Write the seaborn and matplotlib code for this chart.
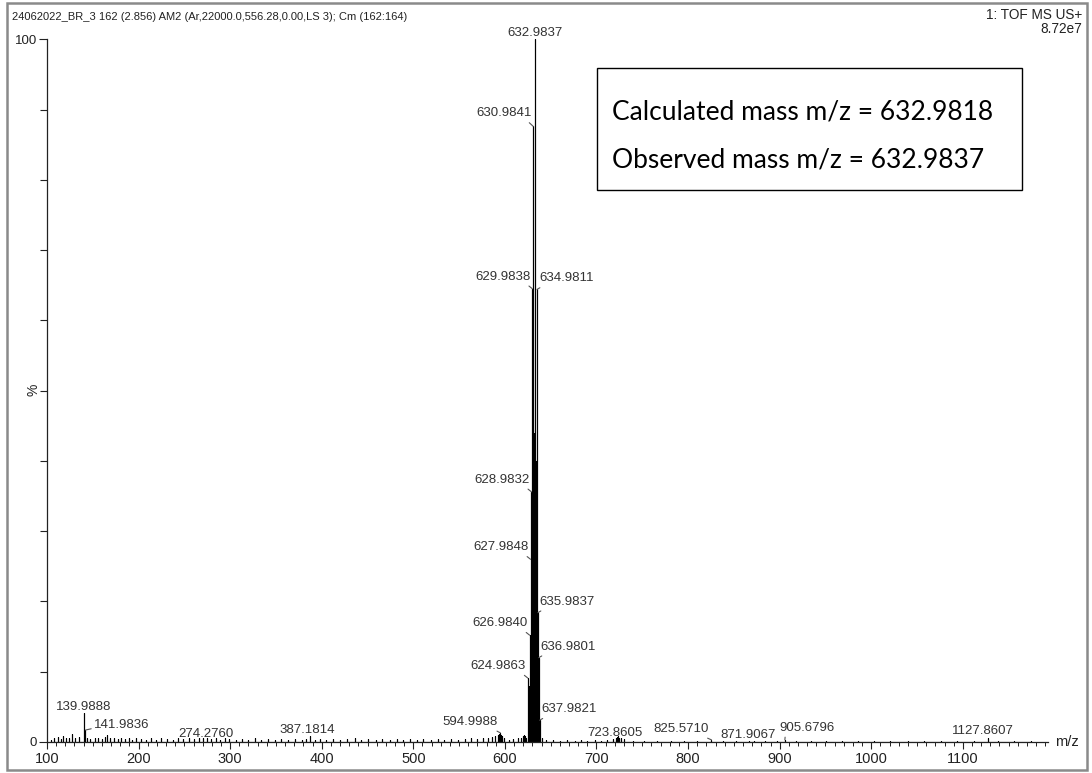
import numpy as np
import pandas as pd
import matplotlib
matplotlib.use("Agg")
import matplotlib.pyplot as plt
import seaborn as sns
from matplotlib.patches import Rectangle
from matplotlib.ticker import MultipleLocator, FixedLocator

# ---------------- data ----------------
label_mz = [632.9837, 630.9841, 629.9838, 634.9811, 628.9832, 627.9848,
            635.9837, 626.9840, 636.9801, 624.9863, 637.9821, 594.9988,
            139.9888, 141.9836, 274.2760, 387.1814, 723.8605, 825.5710,
            871.9067, 905.6796, 1127.8607]
label_int = [100.0, 87.6, 64.5, 64.4, 35.6, 26.0,
             18.4, 15.2, 12.0, 9.1, 3.1, 1.3,
             4.1, 1.7, 0.6, 0.8, 0.9, 0.3,
             0.2, 0.3, 0.5]

extra_mz = [625.98, 631.98, 633.98]
extra_int = [8.0, 44.0, 40.0]

noise_mz = [104, 108, 112, 115, 118, 121, 124, 127, 131, 135,
            144, 147, 152, 156, 160, 163, 166, 169, 173, 177, 181, 185, 189, 193, 197,
            203, 208, 214, 219, 225, 231, 238, 243, 249, 255, 261, 266, 270, 279, 284, 289, 294, 299,
            306, 313, 320, 327, 334, 341, 349, 356, 363, 371, 378, 383, 393, 398,
            405, 412, 420, 428, 436, 443, 451, 459, 466, 474, 482, 489, 496,
            504, 511, 519, 527, 534, 541, 549, 556, 563, 569, 576, 581, 586, 589, 592, 593, 596, 597, 599,
            604, 609, 614, 618, 620, 621, 622, 623,
            641, 645, 652, 660, 668, 676, 683, 690, 698, 705, 712, 718, 721, 722, 725, 727, 730,
            740, 752, 766, 781, 795, 810, 838, 852, 866, 884, 897, 918, 934, 951, 968, 985,
            1003, 1021, 1040, 1058, 1076, 1094, 1112, 1138, 1156, 1174]
noise_int = [0.3, 0.5, 0.7, 0.4, 0.9, 0.5, 0.6, 1.2, 0.5, 0.7,
             0.6, 0.4, 0.5, 0.6, 0.4, 0.7, 1.0, 0.6, 0.5, 0.4, 0.6, 0.4, 0.5, 0.3, 0.5,
             0.4, 0.3, 0.5, 0.3, 0.6, 0.4, 0.3, 0.5, 0.4, 0.5, 0.4, 0.6, 0.5, 0.4, 0.6, 0.3, 0.5, 0.4,
             0.3, 0.4, 0.3, 0.5, 0.3, 0.4, 0.3, 0.4, 0.3, 0.4, 0.3, 0.4, 0.3, 0.4,
             0.3, 0.4, 0.3, 0.4, 0.5, 0.3, 0.4, 0.3, 0.4, 0.3, 0.4, 0.3, 0.4,
             0.3, 0.4, 0.3, 0.4, 0.3, 0.4, 0.3, 0.4, 0.5, 0.4, 0.6, 0.5, 0.7, 0.8, 1.0, 1.1, 1.0, 0.8, 0.5,
             0.3, 0.4, 0.5, 0.6, 0.9, 1.0, 0.8, 0.6,
             0.5, 0.3, 0.3, 0.2, 0.3, 0.2, 0.3, 0.2, 0.3, 0.2, 0.3, 0.4, 0.6, 0.7, 0.6, 0.5, 0.4,
             0.2, 0.2, 0.15, 0.2, 0.15, 0.2, 0.15, 0.2, 0.15, 0.2, 0.15, 0.2, 0.15, 0.2, 0.15, 0.2,
             0.15, 0.2, 0.15, 0.2, 0.15, 0.2, 0.15, 0.2, 0.15, 0.2]

x_ticks = [100, 200, 300, 400, 500, 600, 700, 800, 900, 1000, 1100]
y_ticks = [0, 100]

header_left = "24062022_BR_3 162 (2.856) AM2 (Ar,22000.0,556.28,0.00,LS 3); Cm (162:164)"
header_right = ["1: TOF MS US+", "8.72e7"]
box_lines = ["Calculated mass m/z = 632.9818", "Observed mass m/z = 632.9837"]

# label layout: (dx px, dy px, ha, leader relpos or None)
label_layout = [
    (0, 3, "center", None),
    (-2, 10, "right", (0.9, 0)),
    (-2, 9, "right", (0.9, 0)),
    (2, 8, "left", (0.12, 0)),
    (-2, 9, "right", (0.9, 0)),
    (-2, 9, "right", (0.9, 0)),
    (2, 8, "left", (0.12, 0)),
    (-2, 9, "right", (0.9, 0)),
    (2, 8, "left", (0.12, 0)),
    (-2, 9, "right", (0.9, 0)),
    (2, 8, "left", (0.12, 0)),
    (-3, 8, "right", (0.88, 0)),
    (0, 3, "center", None),
    (9, 2, "left", (0, 0.25)),
    (-1, 1, "center", None),
    (-3, 3, "center", None),
    (-3, 0, "center", None),
    (-3, 8, "right", (0.85, 0)),
    (-6, 3, "center", None),
    (-5, 9, "left", (0.1, 0)),
    (-5, 4, "center", None),
]

# ---------------- figure ----------------
sns.set_style("white")
plt.rcParams["font.family"] = ["Liberation Sans", "DejaVu Sans"]

W, H = 1092, 773
fig = plt.figure(figsize=(W / 100, H / 100), dpi=100)
ax_l, ax_r, ax_t, ax_b = 47, 1048, 39.3, 742
ax = fig.add_axes([ax_l / W, 1 - ax_b / H, (ax_r - ax_l) / W, (ax_b - ax_t) / H])

peaks = pd.DataFrame({"mz": label_mz + extra_mz + noise_mz,
                      "inten": label_int + extra_int + noise_int}).sort_values("mz")
n = len(peaks)
path = pd.DataFrame({
    "mz": np.repeat(peaks["mz"].values, 3),
    "inten": np.column_stack([np.zeros(n), peaks["inten"].values, np.zeros(n)]).ravel(),
})
sns.lineplot(data=path, x="mz", y="inten", sort=False, estimator=None,
             color="black", lw=0.8, ax=ax)

ax.set_xlim(100, 1193)
ax.set_ylim(0, 100)
ax.set_xlabel("")
ax.set_ylabel("")
for s in ["top", "right"]:
    ax.spines[s].set_visible(False)
for s in ["left", "bottom"]:
    ax.spines[s].set_color("#222222")
    ax.spines[s].set_linewidth(0.9)

ax.xaxis.set_major_locator(FixedLocator(x_ticks))
ax.xaxis.set_minor_locator(MultipleLocator(10))
ax.yaxis.set_major_locator(FixedLocator(y_ticks))
ax.yaxis.set_minor_locator(MultipleLocator(10))
ax.tick_params(axis="x", which="major", length=5, width=0.8, color="#222222",
               labelsize=10.5, labelcolor="#222222", pad=2, direction="out", bottom=True)
ax.tick_params(axis="x", which="minor", length=3, width=0.7, color="#222222", direction="out", bottom=True)
ax.tick_params(axis="y", which="major", length=6, width=0.8, color="#222222",
               labelsize=9.5, labelcolor="#222222", pad=1, direction="out", left=True)
ax.tick_params(axis="y", which="minor", length=5, width=0.8, color="#222222", direction="out", left=True)

for m, h, (dx, dy, ha, rel) in zip(label_mz, label_int, label_layout):
    kw = dict(xy=(m, h), xytext=(dx, dy), textcoords="offset pixels", ha=ha,
              va="baseline", fontsize=9.5, color="#333333", annotation_clip=False)
    if rel is not None:
        kw["arrowprops"] = dict(arrowstyle="-", color="#555555", lw=0.8,
                                shrinkA=0, shrinkB=0, relpos=rel)
    ax.annotate(f"{m:.4f}", **kw)

# axis captions
fig.text(1067 / W, 1 - 742 / H, "m/z", ha="center", va="center", fontsize=10.5, color="#222222")
fig.text(33 / W, 1 - 390 / H, "%", ha="center", va="center", rotation=90, fontsize=10, color="#222222")

# headers
fig.text(12 / W, 1 - 17 / H, header_left, ha="left", va="center", fontsize=8.0, color="#222222")
fig.text(1082 / W, 1 - 15 / H, header_right[0], ha="right", va="center", fontsize=9.8, color="#222222")
fig.text(1082 / W, 1 - 29 / H, header_right[1], ha="right", va="center", fontsize=9.8, color="#222222")

# annotation box
fig.add_artist(Rectangle((597 / W, 1 - 190 / H), (1022 - 597) / W, (190 - 68) / H,
                         transform=fig.transFigure, fill=False, lw=1.0, ec="black"))
fig.text(612 / W, 1 - 112 / H, box_lines[0], ha="left", va="center", fontsize=19,
         family=["Lato", "DejaVu Sans"], color="black")
fig.text(612 / W, 1 - 160 / H, box_lines[1], ha="left", va="center", fontsize=19,
         family=["Lato", "DejaVu Sans"], color="black")

# outer frame
fig.add_artist(Rectangle((7 / W, 3 / H), (1087 - 7) / W, (770 - 3) / H,
                         transform=fig.transFigure, fill=False, lw=1.8, ec="#8a8a8a"))

fig.savefig("out.png", dpi=100)
